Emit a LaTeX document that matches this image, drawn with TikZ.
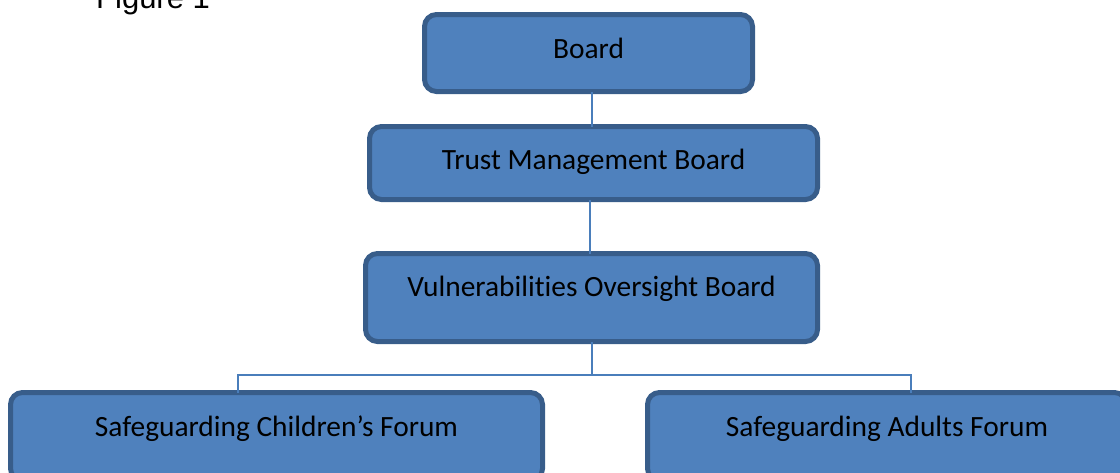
\documentclass[tikz,border=0pt]{standalone}
\usepackage{fontspec}
\setmainfont{Carlito}[Ligatures=CommonOff]
\newfontfamily\captionfont{Liberation Sans}
\usetikzlibrary{calc}
\definecolor{boxfill}{HTML}{4F81BD}
\definecolor{boxline}{HTML}{385D8A}
\definecolor{linkline}{HTML}{4A7EBB}
\begin{document}
\begin{tikzpicture}[x=1pt,y=-1pt,
  orgbox/.style={draw=boxline, fill=boxfill, line width=5pt, rounded corners=12pt,
    rectangle, inner sep=0pt},
  boxtext/.style={anchor=base, inner sep=0pt, font=\fontsize{29.4}{34}\selectfont},
  link/.style={draw=linkline, line width=1.6pt}]
  \useasboundingbox (0,0) rectangle (1120,472);
  \clip (0,0) rectangle (1120,472);

  % caption
  \node[anchor=base west, inner sep=0pt, font=\captionfont\fontsize{31}{36}\selectfont] (fig) at (96,8) {Figure 1};

  % boxes
  \node[orgbox, minimum width=328pt, minimum height=77pt] (board) at (588.5,53) {};
  \node[orgbox, minimum width=448pt, minimum height=73pt] (tmb) at (593.5,163) {};
  \node[orgbox, minimum width=452pt, minimum height=88pt] (vob) at (591.5,297.5) {};
  \node[orgbox, minimum width=532pt, minimum height=88pt] (scf) at (276.5,436.5) {};
  \node[orgbox, minimum width=479pt, minimum height=88pt] (saf) at (887,436.5) {};

  % labels
  \node[boxtext] (boardt) at ([yshift=-46.5pt]board.north) {Board};
  \node[boxtext] (tmbt) at ([yshift=-45pt]tmb.north) {Trust Management Board};
  \node[boxtext] (vobt) at ([yshift=-45.5pt]vob.north) {Vulnerabilities Oversight Board};
  \node[boxtext] (scft) at ([yshift=-46.5pt]scf.north) {Safeguarding Children’s Forum};
  \node[boxtext] (saft) at ([yshift=-46.5pt]saf.north) {Safeguarding Adults Forum};

  % connectors
  \coordinate (c1) at (592,0);
  \coordinate (c2) at (590,0);
  \coordinate (bus) at (592,375);
  \coordinate (lstub) at (238,0);
  \coordinate (rstub) at (911,0);

  \path[link] ([yshift=2.5pt]board.south -| c1) -- ([yshift=-2.5pt]tmb.north -| c1);
  \path[link] ([yshift=2.5pt]tmb.south -| c2) -- ([yshift=-2.5pt]vob.north -| c2);
  \path[link] ([yshift=2.5pt]vob.south -| bus) -- (bus);
  \path[link] ([yshift=-2.5pt]scf.north -| lstub) |- (bus) -| ([yshift=-2.5pt]saf.north -| rstub);
\end{tikzpicture}
\end{document}
